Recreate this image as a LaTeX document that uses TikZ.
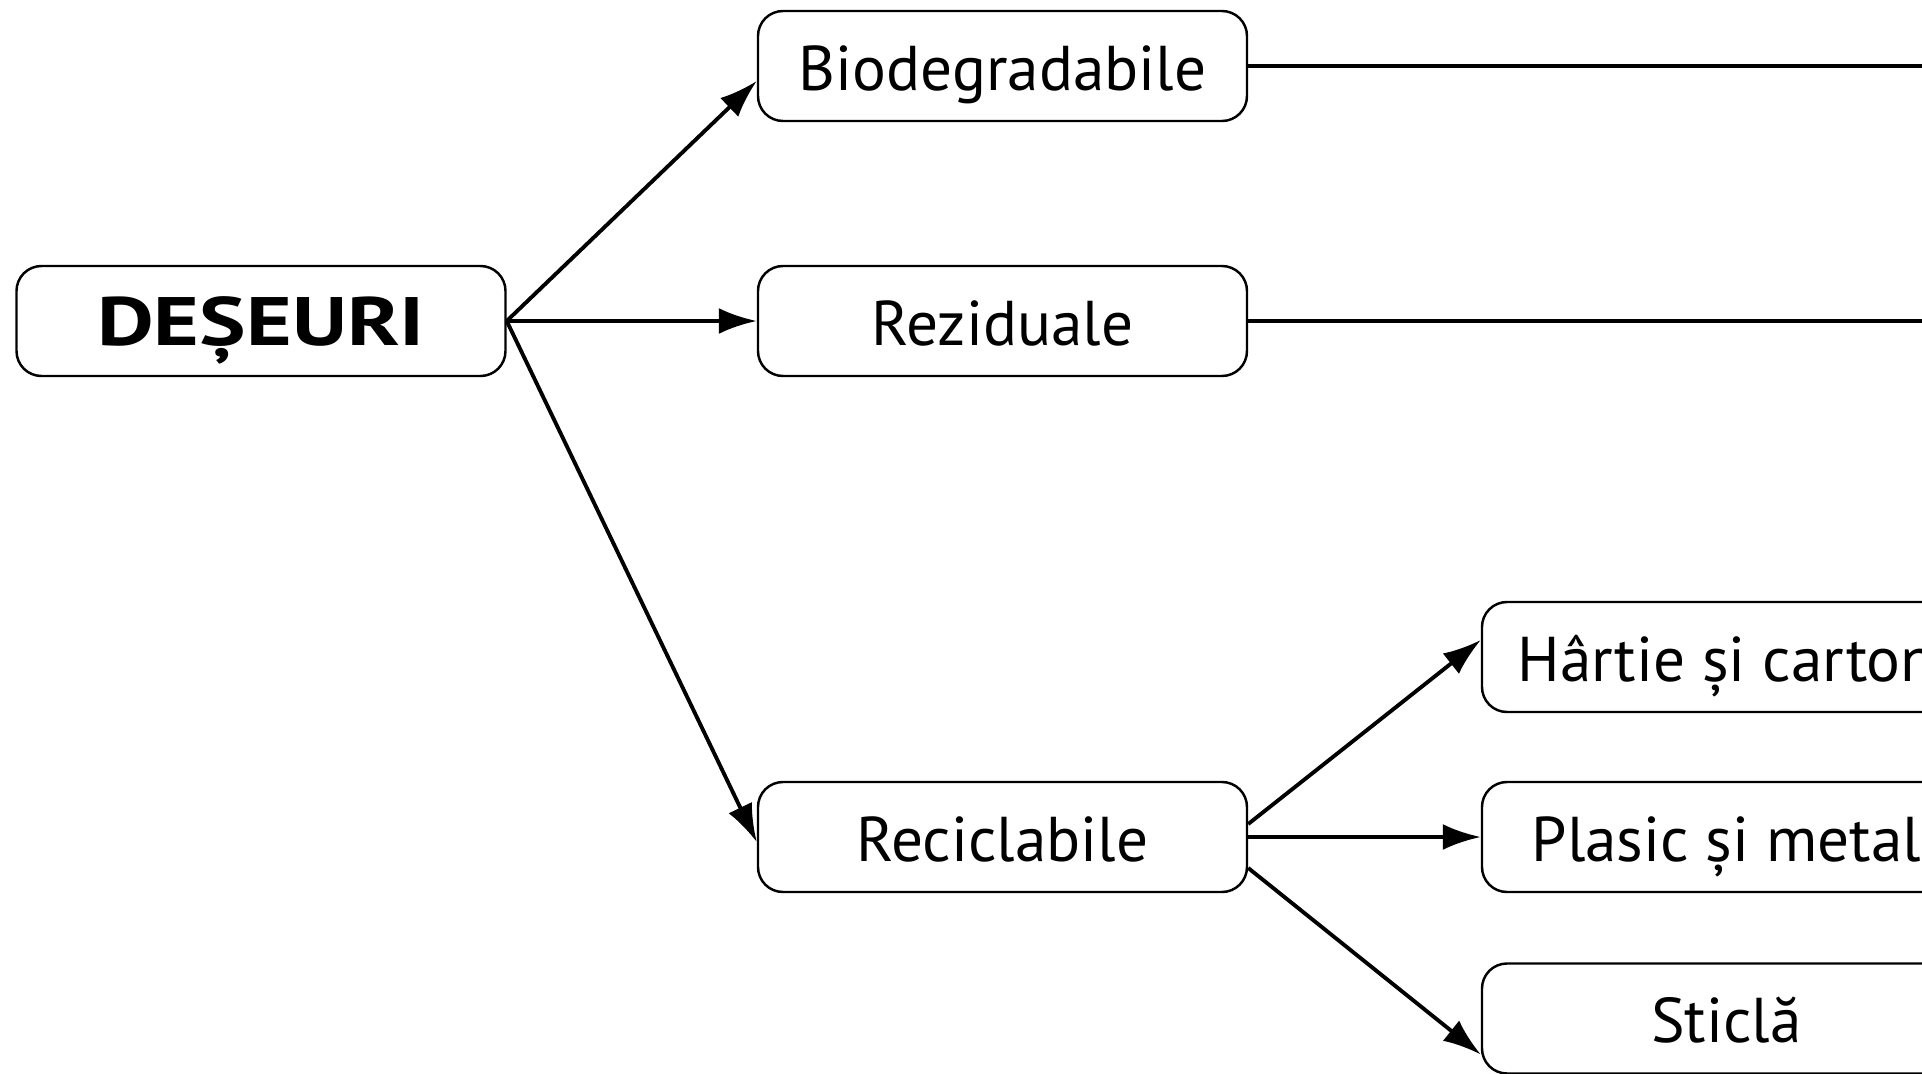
\documentclass[tikz,border=0pt]{standalone}
\usepackage{fontspec}
\setmainfont{PT Sans}
\newfontfamily\widebold[FakeStretch=1.28]{PT Sans Bold}
\usepackage{tikz}
\usetikzlibrary{arrows.meta,calc}

\begin{document}
\begin{tikzpicture}[x=1mm,y=1mm,
  box/.style={draw,line width=0.7pt,rounded corners=2.5mm,minimum width=48.9mm,minimum height=11mm,inner sep=0pt,text height=5mm,text depth=0.2mm,font=\fontsize{18}{22}\selectfont},
  arr/.style={line width=1.1pt,-{Latex[length=3.8mm,width=2.6mm]}}]
  \useasboundingbox (0,0) rectangle (192.2,-107.4);
  \clip (0,0) rectangle (192.2,-107.4);
  \node [box,name=des,font=\fontsize{19.5}{22}\widebold] at (26.1,-32.1) {DEȘEURI};
  \node [box,name=bio] at (100.25,-6.6) {Biodegradabile};
  \node [box,name=rez] at (100.25,-32.1) {Reziduale};
  \node [box,name=rec] at (100.25,-83.7) {Reciclabile};
  \node [box,name=hartie] at (172.65,-65.7) {Hârtie și carton};
  \node [box,name=plasic] at (172.65,-83.7) {Plasic și metal};
  \node [box,name=sticla] at (172.65,-101.85) {Sticlă};
  \coordinate (bioend) at (192.2,-6.6);
  \coordinate (rezend) at (192.2,-32.1);
  \draw [arr] (des.east) -- ($(bio.west)+(0,-1.5)$);
  \draw [arr] (des.east) -- (rez.west);
  \draw [arr] (des.east) -- ($(rec.west)+(0,-0.5)$);
  \draw [line width=1.1pt] (bio.east) -- (bioend);
  \draw [line width=1.1pt] (rez.east) -- (rezend);
  \draw [arr] ($(rec.east)+(0,1.3)$) -- ($(hartie.west)+(0,1.7)$);
  \draw [arr] (rec.east) -- (plasic.west);
  \draw [arr] ($(rec.east)+(0,-3.1)$) -- ($(sticla.west)+(0,-3.6)$);
\end{tikzpicture}
\end{document}
